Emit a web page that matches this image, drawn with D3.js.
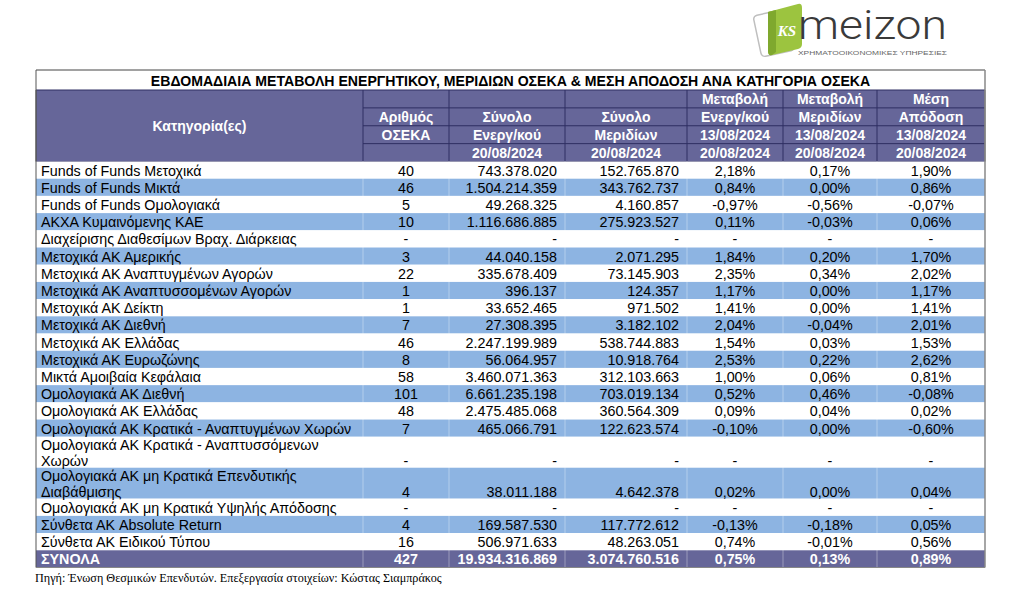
<!DOCTYPE html>
<html>
<head>
<meta charset="utf-8">
<script src="https://cdn.jsdelivr.net/npm/d3@7"></script>
<style>
  html, body { margin: 0; padding: 0; background: #fff; }
  svg { display: block; }
</style>
</head>
<body>
<script>
// ---------------- DATA ----------------
const title = "ΕΒΔΟΜΑΔΙΑΙΑ ΜΕΤΑΒΟΛΗ ΕΝΕΡΓΗΤΙΚΟΥ, ΜΕΡΙΔΙΩΝ ΟΣΕΚΑ & ΜΕΣΗ ΑΠΟΔΟΣΗ ΑΝΑ ΚΑΤΗΓΟΡΙΑ ΟΣΕΚΑ";
const sourceNote = "Πηγή: Ένωση Θεσμικών Επενδυτών. Επεξεργασία στοιχείων: Κώστας Σιαμπράκος";

const categoryHeader = "Κατηγορία(ες)";
const columnHeaders = [
  ["", "Αριθμός", "ΟΣΕΚΑ", ""],
  ["", "Σύνολο", "Ενεργ/κού", "20/08/2024"],
  ["", "Σύνολο", "Μεριδίων", "20/08/2024"],
  ["Μεταβολή", "Ενεργ/κού", "13/08/2024", "20/08/2024"],
  ["Μεταβολή", "Μεριδίων", "13/08/2024", "20/08/2024"],
  ["Μέση", "Απόδοση", "13/08/2024", "20/08/2024"]
];

const categories = [
  "Funds of Funds Μετοχικά",
  "Funds of Funds Μικτά",
  "Funds of Funds Ομολογιακά",
  "ΑΚΧΑ Κυμαινόμενης ΚΑΕ",
  "Διαχείρισης Διαθεσίμων Βραχ. Διάρκειας",
  "Μετοχικά ΑΚ Αμερικής",
  "Μετοχικά ΑΚ Αναπτυγμένων Αγορών",
  "Μετοχικά ΑΚ Αναπτυσσομένων Αγορών",
  "Μετοχικά ΑΚ Δείκτη",
  "Μετοχικά ΑΚ Διεθνή",
  "Μετοχικά ΑΚ Ελλάδας",
  "Μετοχικά ΑΚ Ευρωζώνης",
  "Μικτά Αμοιβαία Κεφάλαια",
  "Ομολογιακά ΑΚ Διεθνή",
  "Ομολογιακά ΑΚ Ελλάδας",
  "Ομολογιακά ΑΚ Κρατικά - Αναπτυγμένων Χωρών",
  "Ομολογιακά ΑΚ Κρατικά - Αναπτυσσόμενων\nΧωρών",
  "Ομολογιακά ΑΚ μη Κρατικά Επενδυτικής\nΔιαβάθμισης",
  "Ομολογιακά ΑΚ μη Κρατικά Υψηλής Απόδοσης",
  "Σύνθετα ΑΚ Absolute Return",
  "Σύνθετα ΑΚ Ειδικού Τύπου"
];

const fundCount = [40, 46, 5, 10, null, 3, 22, 1, 1, 7, 46, 8, 58, 101, 48, 7, null, 4, null, 4, 16];

const totalAssets = [743378020, 1504214359, 49268325, 1116686885, null, 44040158, 335678409, 396137,
  33652465, 27308395, 2247199989, 56064957, 3460071363, 6661235198, 2475485068, 465066791,
  null, 38011188, null, 169587530, 506971633];

const totalUnits = [152765870, 343762737, 4160857, 275923527, null, 2071295, 73145903, 124357,
  971502, 3182102, 538744883, 10918764, 312103663, 703019134, 360564309, 122623574,
  null, 4642378, null, 117772612, 48263051];

const assetChange = [2.18, 0.84, -0.97, 0.11, null, 1.84, 2.35, 1.17, 1.41, 2.04, 1.54, 2.53, 1.00,
  0.52, 0.09, -0.10, null, 0.02, null, -0.13, 0.74];

const unitChange = [0.17, 0.00, -0.56, -0.03, null, 0.20, 0.34, 0.00, 0.00, -0.04, 0.03, 0.22, 0.06,
  0.46, 0.04, 0.00, null, 0.00, null, -0.18, -0.01];

const avgReturn = [1.90, 0.86, -0.07, 0.06, null, 1.70, 2.02, 1.17, 1.41, 2.01, 1.53, 2.62, 0.81,
  -0.08, 0.02, -0.60, null, 0.04, null, 0.05, 0.56];

const totalsLabel = "ΣΥΝΟΛΑ";
const totalsRow = [427, 19934316869, 3074760516, 0.75, 0.13, 0.89];

const logoWord = "meizon";
const logoTagline = "ΧΡΗΜΑΤΟΟΙΚΟΝΟΜΙΚΕΣ ΥΠΗΡΕΣΙΕΣ";
const logoMark = "KS";

// ---------------- LAYOUT ----------------
const W = 1024, H = 601;
const colEdges = [36, 363, 449, 565, 687, 783, 877, 985];
const PURPLE = "#666699", BLUE = "#8db4e2", HDRLINE = "#2e2e62";
const FONT = "'Liberation Sans', Arial, sans-serif";

const loc = d3.formatLocale({decimal: ",", thousands: ".", grouping: [3], currency: ["", ""], minus: "-"});
const fmtInt = loc.format(",d");
const fmtPct = v => loc.format(".2f")(v) + "%";

const svg = d3.select("body").append("svg").attr("width", W).attr("height", H);

const colLeft = d3.scaleOrdinal().domain(d3.range(7)).range(colEdges.slice(0, 7));
const colRight = d3.scaleOrdinal().domain(d3.range(7)).range(colEdges.slice(1));
const colMid = i => (colLeft(i) + colRight(i)) / 2;

const rowUnits = categories.map(c => c.includes("\n") ? 1.8 : 1).concat([1]);
const cum = [0];
rowUnits.forEach(u => cum.push(cum[cum.length - 1] + u));
const yBody = d3.scaleLinear().domain([0, cum[cum.length - 1]]).range([161.5, 567.5]);

const yHead = d3.scaleLinear().domain([0, 4]).range([90, 161.5]);
const titleTop = 70;

// ---------------- LOGO ----------------
const logo = svg.append("g");
logo.append("rect").attr("x", 757).attr("y", 12).attr("width", 34).attr("height", 42).attr("rx", 4)
  .attr("fill", "#fff").attr("stroke", "#bfbfbf").attr("stroke-width", 1.5)
  .attr("transform", "rotate(-12 774 33)");
logo.append("path")
  .attr("d", "M768,12 L798,4 Q802,3 802,8 L802,44 Q802,48 798,49 L772,55 Q768,56 768,51 Z")
  .attr("fill", "#9cc43f");
logo.append("path")
  .attr("d", "M768,12 L776,10 L776,52 L772,55 Q768,56 768,51 Z")
  .attr("fill", "#7fa82e");
logo.append("text").attr("x", 787).attr("y", 36).attr("text-anchor", "middle")
  .attr("font-family", "'Liberation Serif', serif").attr("font-weight", "bold").attr("font-style", "italic")
  .attr("font-size", 15).attr("fill", "#fff").text(logoMark);
logo.append("text").attr("x", 798).attr("y", 38.5)
  .attr("font-family", "Roboto, Lato, sans-serif").attr("font-weight", 300)
  .attr("font-size", 41).attr("fill", "#3a3a3a")
  .attr("textLength", 149).attr("lengthAdjust", "spacingAndGlyphs").text(logoWord);
logo.append("text").attr("x", 798).attr("y", 55)
  .attr("font-family", FONT).attr("font-size", 6.2).attr("fill", "#666")
  .attr("textLength", 149).attr("lengthAdjust", "spacingAndGlyphs").text(logoTagline);

// ---------------- TITLE ROW ----------------
svg.append("rect").attr("x", colEdges[0]).attr("y", titleTop)
  .attr("width", colEdges[7] - colEdges[0]).attr("height", yHead(0) - titleTop).attr("fill", "#fff");
svg.append("text").attr("x", (colEdges[0] + colEdges[7]) / 2).attr("y", (titleTop + yHead(0)) / 2 + 1)
  .attr("text-anchor", "middle").attr("dominant-baseline", "central")
  .attr("font-family", FONT).attr("font-weight", "bold").attr("font-size", 14.1).attr("fill", "#000")
  .text(title);

// ---------------- HEADER ----------------
svg.append("rect").attr("x", colEdges[0]).attr("y", yHead(0))
  .attr("width", colEdges[7] - colEdges[0]).attr("height", yHead(4) - yHead(0)).attr("fill", PURPLE);

[1, 2, 3].forEach(r => {
  svg.append("line").attr("x1", colEdges[1]).attr("x2", colEdges[7])
    .attr("y1", yHead(r)).attr("y2", yHead(r)).attr("stroke", HDRLINE).attr("stroke-width", 1);
});
[0, 4].forEach(r => {
  svg.append("line").attr("x1", colEdges[0]).attr("x2", colEdges[7])
    .attr("y1", yHead(r)).attr("y2", yHead(r)).attr("stroke", HDRLINE).attr("stroke-width", 1);
});
colEdges.forEach((x, i) => {
  svg.append("line").attr("x1", x).attr("x2", x).attr("y1", yHead(0)).attr("y2", yHead(4))
    .attr("stroke", i === 0 || i === 7 ? "#555" : HDRLINE).attr("stroke-width", 1);
});

const HFS = 14;
svg.append("text").attr("x", colMid(0)).attr("y", (yHead(0) + yHead(4)) / 2)
  .attr("text-anchor", "middle").attr("dominant-baseline", "central")
  .attr("font-family", FONT).attr("font-weight", "bold").attr("font-size", HFS).attr("fill", "#fff")
  .text(categoryHeader);

columnHeaders.forEach((lines, ci) => {
  lines.forEach((t, ri) => {
    if (!t) return;
    svg.append("text").attr("x", colMid(ci + 1)).attr("y", (yHead(ri) + yHead(ri + 1)) / 2 + 0.5)
      .attr("text-anchor", "middle").attr("dominant-baseline", "central")
      .attr("font-family", FONT).attr("font-weight", "bold").attr("font-size", HFS).attr("fill", "#fff")
      .text(t);
  });
});

// ---------------- BODY ----------------
const body = svg.append("g");
const nBody = categories.length;

d3.range(nBody + 1).forEach(i => {
  const isTotal = i === nBody;
  const fill = isTotal ? PURPLE : (i % 2 === 1 ? BLUE : "#fff");
  body.append("rect").attr("x", colEdges[0]).attr("y", yBody(cum[i]))
    .attr("width", colEdges[7] - colEdges[0]).attr("height", yBody(cum[i + 1]) - yBody(cum[i]))
    .attr("fill", fill);
});

colEdges.slice(1, 7).forEach(x => {
  body.append("line").attr("x1", x).attr("x2", x).attr("y1", yBody(0)).attr("y2", yBody(cum[nBody + 1]))
    .attr("stroke", "#fff").attr("stroke-opacity", 0.35).attr("stroke-width", 1);
});

const FS = 14.3;
function cellText(x, y, anchor, txt, color, bold) {
  body.append("text").attr("x", x).attr("y", y).attr("text-anchor", anchor)
    .attr("dominant-baseline", "central").attr("font-family", FONT)
    .attr("font-size", FS).attr("font-weight", bold ? "bold" : "normal").attr("fill", color).text(txt);
}

const PAD = 8;
d3.range(nBody).forEach(i => {
  const top = yBody(cum[i]);
  const two = categories[i].includes("\n");
  const lineY = two ? [top + 8.5, top + 24.5] : [(top + yBody(cum[i + 1])) / 2 + 0.5];
  const valY = lineY[lineY.length - 1];
  categories[i].split("\n").forEach((ln, k) => cellText(colEdges[0] + 5, lineY[k], "start", ln, "#000"));
  cellText(colMid(1), valY, "middle", fundCount[i] == null ? "-" : fundCount[i], "#000");
  cellText(colRight(2) - PAD, valY, "end", totalAssets[i] == null ? "-" : fmtInt(totalAssets[i]), "#000");
  cellText(colRight(3) - PAD, valY, "end", totalUnits[i] == null ? "-" : fmtInt(totalUnits[i]), "#000");
  cellText(colMid(4), valY, "middle", assetChange[i] == null ? "-" : fmtPct(assetChange[i]), "#000");
  cellText(colMid(5), valY, "middle", unitChange[i] == null ? "-" : fmtPct(unitChange[i]), "#000");
  cellText(colMid(6), valY, "middle", avgReturn[i] == null ? "-" : fmtPct(avgReturn[i]), "#000");
});

{
  const yT = (yBody(cum[nBody]) + yBody(cum[nBody + 1])) / 2 + 0.5;
  cellText(colEdges[0] + 5, yT, "start", totalsLabel, "#fff", true);
  cellText(colMid(1), yT, "middle", totalsRow[0], "#fff", true);
  cellText(colRight(2) - PAD, yT, "end", fmtInt(totalsRow[1]), "#fff", true);
  cellText(colRight(3) - PAD, yT, "end", fmtInt(totalsRow[2]), "#fff", true);
  cellText(colMid(4), yT, "middle", fmtPct(totalsRow[3]), "#fff", true);
  cellText(colMid(5), yT, "middle", fmtPct(totalsRow[4]), "#fff", true);
  cellText(colMid(6), yT, "middle", fmtPct(totalsRow[5]), "#fff", true);
}

const bottom = yBody(cum[nBody + 1]);
svg.append("line").attr("x1", colEdges[0]).attr("x2", colEdges[7]).attr("y1", titleTop).attr("y2", titleTop)
  .attr("stroke", "#444").attr("stroke-width", 1);
svg.append("line").attr("x1", colEdges[0]).attr("x2", colEdges[0]).attr("y1", titleTop).attr("y2", bottom)
  .attr("stroke", "#555").attr("stroke-width", 1);
svg.append("line").attr("x1", colEdges[7]).attr("x2", colEdges[7]).attr("y1", titleTop).attr("y2", bottom)
  .attr("stroke", "#888").attr("stroke-width", 1.5);
svg.append("line").attr("x1", colEdges[0]).attr("x2", colEdges[7]).attr("y1", bottom).attr("y2", bottom)
  .attr("stroke", "#888").attr("stroke-width", 1);

svg.append("text").attr("x", 35).attr("y", 578).attr("dominant-baseline", "central")
  .attr("font-family", "'Liberation Serif', 'Times New Roman', serif").attr("font-size", 12.2)
  .attr("fill", "#000").text(sourceNote);
</script>
</body>
</html>
